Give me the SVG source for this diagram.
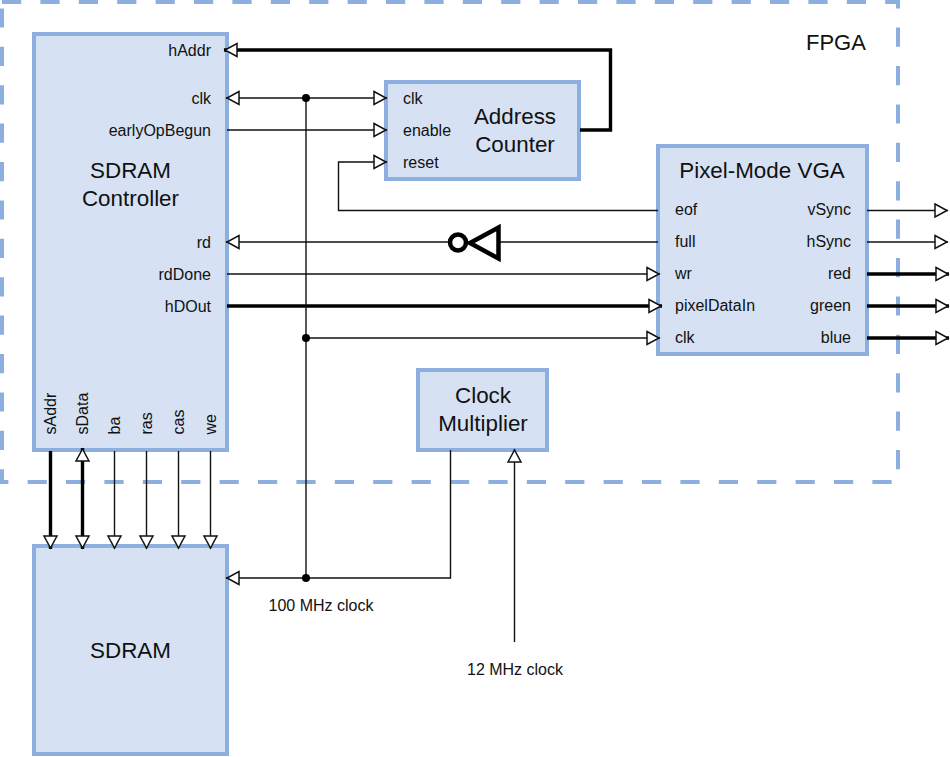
<svg xmlns="http://www.w3.org/2000/svg" width="950" height="757" viewBox="0 0 950 757">
<style>
text{font-family:"Liberation Sans",Arial,sans-serif;fill:#111}
.box{fill:#d6e2f4;stroke:#8dafe0;stroke-width:4}
.t{font-size:22.4px;text-anchor:middle}
.l{font-size:16px}
.e{text-anchor:end}
.c{text-anchor:middle}
.w{fill:none;stroke:#111;stroke-width:1.4}
.b{fill:none;stroke:#000;stroke-width:3.4}
.arr{marker-end:url(#a)}
.arrs{marker-start:url(#s)}
</style>
<defs>
<marker id="a" markerUnits="userSpaceOnUse" markerWidth="16" markerHeight="18" viewBox="0 0 16 18" refX="15" refY="9" orient="auto"><path d="M2 2.500L14 9L2 15.500Z" fill="#fff" stroke="#111" stroke-width="1.5"/></marker>
<marker id="s" markerUnits="userSpaceOnUse" markerWidth="16" markerHeight="18" viewBox="0 0 16 18" refX="1" refY="9" orient="auto"><path d="M14 2.500L2 9L14 15.500Z" fill="#fff" stroke="#111" stroke-width="1.5"/></marker>
</defs>
<g id="fpga">
<rect x="2" y="2" width="896" height="480" fill="none" stroke="#8dafe0" stroke-width="4" stroke-dasharray="19.2 19.2"/>
<text x="806" y="50" style="font-size:22px">FPGA</text>
</g>
<g id="sdram-controller">
<rect class="box" x="34" y="34" width="193" height="416"/>
<text class="t" x="130.500" y="178">SDRAM</text>
<text class="t" x="130.500" y="206">Controller</text>
<g class="l">
<text class="e" x="211" y="55.500">hAddr</text>
<text class="e" x="211" y="103.500">clk</text>
<text class="e" x="211" y="135.500">earlyOpBegun</text>
<text class="e" x="211" y="247.500">rd</text>
<text class="e" x="211" y="279.500">rdDone</text>
<text class="e" x="211" y="311.500">hDOut</text>
<text transform="translate(56 434.500) rotate(-90)">sAddr</text>
<text transform="translate(88 434.500) rotate(-90)">sData</text>
<text transform="translate(120 434.500) rotate(-90)">ba</text>
<text transform="translate(152 434.500) rotate(-90)">ras</text>
<text transform="translate(184 434.500) rotate(-90)">cas</text>
<text transform="translate(216 434.500) rotate(-90)">we</text>
</g>
</g>
<g id="address-counter">
<rect class="box" x="386" y="82" width="193" height="97"/>
<text class="t" x="515" y="124">Address</text>
<text class="t" x="515" y="152">Counter</text>
<g class="l">
<text x="403" y="103.500">clk</text>
<text x="403" y="135.500">enable</text>
<text x="403" y="167.500">reset</text>
</g>
</g>
<g id="pixel-mode-vga">
<rect class="box" x="658" y="146" width="209" height="208"/>
<text class="t" x="762" y="178">Pixel-Mode VGA</text>
<g class="l">
<text x="675" y="215">eof</text>
<text x="675" y="247">full</text>
<text x="675" y="279">wr</text>
<text x="675" y="311">pixelDataIn</text>
<text x="675" y="343">clk</text>
<text class="e" x="851" y="215">vSync</text>
<text class="e" x="851" y="247">hSync</text>
<text class="e" x="851" y="279">red</text>
<text class="e" x="851" y="311">green</text>
<text class="e" x="851" y="343">blue</text>
</g>
</g>
<g id="clock-multiplier">
<rect class="box" x="418" y="370" width="129" height="80"/>
<text class="t" x="483" y="403">Clock</text>
<text class="t" x="483" y="431">Multiplier</text>
</g>
<g id="sdram">
<rect class="box" x="34" y="546" width="193" height="208"/>
<text class="t" x="130.500" y="658">SDRAM</text>
</g>
<g id="connectors">
<path class="b arr" d="M580 130H610.500V50H224"/>
<path class="w arrs arr" d="M226 98H387"/>
<path class="w arr" d="M227 130H387"/>
<path class="w arr" d="M658 210.500H338.500V162H387"/>
<path class="w arr" d="M658 242H226"/>
<path class="w arr" d="M227 274H660"/>
<path class="b arr" d="M227 306H662"/>
<path class="w arr" d="M306 338H660"/>
<path class="w" d="M306 98V578"/>
<path class="w arr" d="M450.500 450V578H226"/>
<path class="w arr" d="M514.500 642V449"/>
<path class="w arr" d="M867 210.500H948"/>
<path class="w arr" d="M867 242H948"/>
<path class="b arr" d="M867 274H949"/>
<path class="b arr" d="M867 306H949"/>
<path class="b arr" d="M867 338H949"/>
<path class="b arr" d="M50.500 451V549"/>
<path class="b arrs arr" d="M82.500 448V549"/>
<path class="w arr" d="M114.500 451V549"/>
<path class="w arr" d="M146.500 451V549"/>
<path class="w arr" d="M178.500 451V549"/>
<path class="w arr" d="M210.500 451V549"/>
<circle cx="306" cy="98" r="4"/>
<circle cx="306" cy="338" r="4"/>
<circle cx="306" cy="578" r="4"/>
<g id="inverter" fill="#fff" stroke="#000" stroke-width="4.500">
<path d="M498.500 227.500V258.500L470 243Z"/>
<circle cx="458" cy="242.500" r="8"/>
</g>
<text class="l c" x="321" y="610.500">100 MHz clock</text>
<text class="l c" x="515" y="674.500">12 MHz clock</text>
</g>
</svg>
